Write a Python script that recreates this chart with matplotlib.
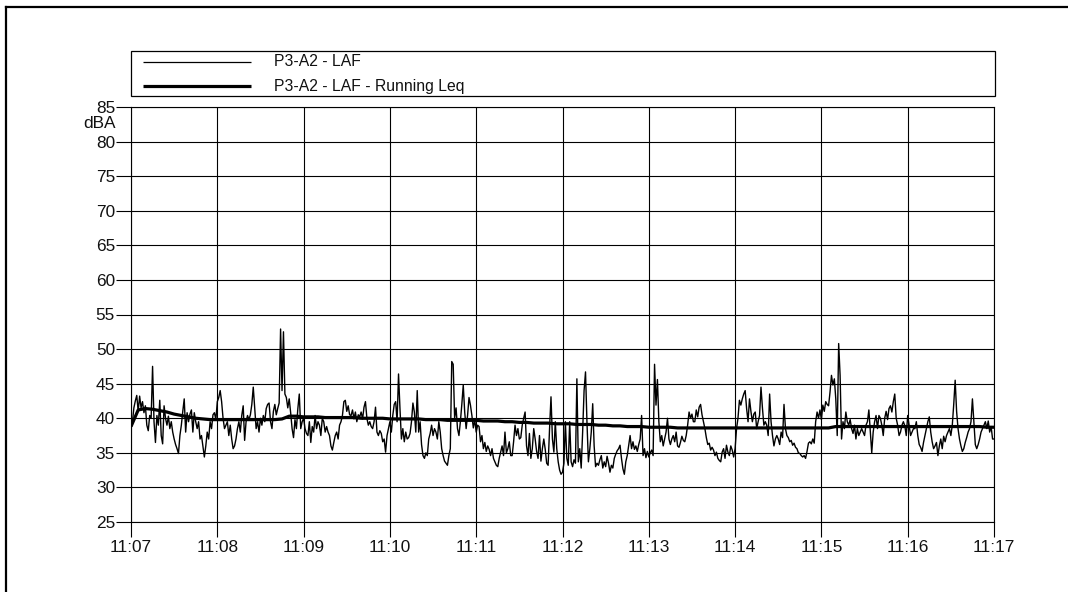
import numpy as np
import matplotlib
matplotlib.use("Agg")
import matplotlib.pyplot as plt
from matplotlib.lines import Line2D
from matplotlib.patches import Rectangle

plt.rcParams['font.family'] = ['Liberation Sans', 'DejaVu Sans']

# LAF level, one sample per second from 11:07:00 to 11:17:00 (dBA)
laf = [
    38.5, 39.5, 41.5, 42.5, 43.3, 41.0, 43.2, 41.5, 42.4, 40.8,
    41.8, 39.0, 38.2, 40.4, 40.0, 47.5, 39.5, 36.5, 40.4, 39.0,
    42.6, 37.5, 36.3, 41.8, 40.0, 39.0, 40.3, 38.5, 39.5, 38.0,
    37.0, 36.2, 35.6, 34.9, 37.5, 39.0, 41.0, 42.8, 38.0, 40.8,
    39.5, 40.6, 41.2, 38.0, 40.8, 39.5, 38.5, 39.5, 37.0, 37.5,
    36.0, 34.4, 36.0, 38.0, 37.0, 39.5, 38.5, 40.5, 40.8, 39.8,
    42.4, 43.0, 44.0, 42.4, 40.0, 38.5, 39.0, 39.5, 37.5, 39.0,
    37.0, 35.6, 36.0, 37.0, 38.5, 39.5, 38.0, 40.4, 41.8, 36.8,
    39.5, 40.4, 39.8, 40.5, 42.0, 44.5, 41.4, 38.5, 39.5, 38.0,
    40.0, 39.0, 40.4, 39.5, 41.4, 42.0, 42.2, 39.5, 38.5, 41.0,
    42.0, 40.5, 41.4, 42.2, 52.9, 44.0, 52.5, 43.5, 43.0, 41.5,
    42.8, 40.8, 38.5, 37.2, 39.8, 38.5, 41.4, 43.5, 38.5, 39.5,
    40.0, 38.5, 37.8, 37.5, 39.5, 36.5, 38.8, 38.0, 40.4, 38.5,
    39.5, 39.0, 37.5, 40.0, 39.5, 38.0, 38.8, 38.0, 37.5, 36.0,
    35.4, 36.5, 37.5, 38.0, 37.0, 39.0, 39.5, 40.4, 42.4, 42.6,
    41.0, 41.8, 40.5, 40.4, 41.2, 39.9, 40.9, 39.5, 40.5, 40.2,
    40.9, 39.9, 41.6, 42.4, 40.0, 39.0, 39.5, 38.8, 38.5, 39.5,
    41.6, 38.0, 37.5, 38.2, 37.8, 36.6, 37.0, 35.1, 37.5, 38.5,
    39.5, 38.0, 40.4, 42.0, 42.4, 39.5, 46.4, 41.4, 37.0, 38.5,
    36.6, 38.0, 37.0, 37.2, 37.8, 39.5, 42.2, 40.9, 38.0, 44.0,
    38.0, 39.5, 36.2, 34.6, 34.2, 35.0, 34.6, 37.0, 37.8, 39.0,
    37.5, 38.5, 38.0, 37.0, 39.5, 38.0, 35.6, 34.6, 33.8, 33.5,
    33.2, 34.6, 35.6, 48.2, 47.8, 40.0, 41.5, 38.5, 37.5, 39.5,
    42.0, 44.8, 40.9, 38.5, 40.4, 43.0, 41.9, 40.4, 38.6, 39.8,
    38.0, 39.0, 38.8, 36.6, 37.5, 35.6, 36.5, 35.2, 36.0, 35.5,
    34.6, 35.6, 34.2, 33.7, 33.2, 33.0, 34.2, 35.1, 36.0, 34.6,
    38.0, 35.0, 35.6, 36.6, 34.6, 34.6, 36.6, 39.0, 37.5, 38.5,
    37.0, 37.2, 39.0, 40.0, 40.9, 36.0, 34.6, 37.8, 34.2, 35.6,
    38.5, 37.0, 35.2, 34.2, 37.5, 33.8, 35.6, 37.0, 35.5, 33.5,
    33.2, 38.5, 43.1, 37.0, 35.1, 39.5, 35.6, 33.7, 32.5, 31.9,
    32.2, 33.5, 39.5, 34.2, 33.2, 39.5, 33.7, 33.0, 34.0, 33.5,
    45.7, 33.7, 35.6, 32.8, 38.0, 44.0, 46.7, 39.5, 33.7, 35.6,
    38.0, 42.1, 36.0, 33.0, 33.5, 33.2, 34.0, 34.6, 32.8, 33.7,
    33.0, 34.5, 33.5, 32.2, 33.2, 32.8, 34.2, 34.8, 35.3, 35.6,
    36.1, 34.2, 32.7, 31.9, 33.7, 34.6, 36.0, 37.5, 35.6, 36.6,
    35.5, 36.0, 35.2, 36.2, 37.0, 40.4, 34.6, 35.6, 34.3, 35.2,
    34.4, 35.0, 35.4, 34.6, 47.8, 41.9, 45.6, 39.5, 36.6, 37.5,
    36.0, 37.0, 38.0, 40.0, 37.0, 36.2, 37.0, 37.5, 36.6, 38.0,
    36.0, 35.8, 36.5, 37.4, 36.8, 36.6, 37.5, 39.0, 40.9, 40.0,
    40.6, 39.5, 39.5, 41.2, 40.2, 41.6, 42.0, 40.5, 39.5, 38.5,
    37.2, 36.2, 36.4, 35.4, 35.8, 35.4, 34.6, 35.1, 34.2, 33.9,
    33.7, 35.1, 35.6, 34.2, 36.1, 35.1, 34.6, 36.0, 35.4, 34.4,
    35.6, 38.5, 40.0, 42.6, 41.9, 42.8, 43.5, 44.0, 41.4, 39.5,
    42.8, 41.0, 39.5, 40.6, 40.9, 38.5, 39.5, 40.4, 44.5, 41.5,
    39.0, 39.5, 39.0, 37.5, 43.5, 39.5, 37.5, 36.0, 37.0, 37.5,
    37.0, 36.2, 38.0, 37.2, 42.0, 38.5, 37.5, 37.2, 36.6, 36.8,
    36.1, 36.4, 35.8, 35.6, 35.0, 34.9, 34.6, 34.4, 34.6, 34.2,
    35.2, 36.4, 36.6, 36.3, 37.0, 36.4, 39.5, 40.9, 40.0, 41.2,
    39.8, 41.9, 41.0, 42.4, 42.0, 41.8, 43.8, 46.2, 44.8, 45.7,
    42.8, 37.5, 50.8, 46.2, 37.0, 39.5, 38.5, 40.9, 39.5, 39.0,
    39.8, 38.5, 37.8, 39.0, 37.0, 38.5, 37.5, 38.0, 38.5, 38.0,
    37.5, 39.0, 39.5, 41.2, 38.0, 35.0, 38.0, 39.5, 40.4, 38.5,
    40.4, 40.0, 39.0, 37.5, 40.0, 41.0, 39.8, 41.4, 41.8, 40.9,
    42.4, 43.5, 40.0, 39.0, 37.5, 38.0, 39.0, 39.5, 38.9, 37.5,
    40.4, 39.0, 37.5, 38.0, 38.5, 38.5, 39.5, 37.5, 36.2, 35.8,
    35.2, 36.5, 37.5, 38.5, 39.5, 40.2, 38.0, 36.6, 35.6, 36.0,
    36.5, 34.6, 36.0, 37.0, 35.6, 37.4, 36.6, 37.5, 38.0, 38.5,
    37.5, 39.0, 42.0, 45.5, 41.0, 38.5, 37.0, 36.0, 35.2, 35.6,
    36.5, 37.2, 38.0, 38.5, 39.5, 42.8, 39.5, 36.2, 35.6, 36.2,
    37.0, 38.0, 38.5, 39.0, 39.5, 38.5, 39.6, 38.0, 38.8, 37.0,
    37.0,
]

# Running Leq as logged by the meter, one value every 5 s (dBA)
running_leq = [
    38.8, 41.2, 41.4, 41.3, 41.1, 40.9, 40.6, 40.4, 40.2, 40.0,
    39.9, 39.8, 39.8, 39.8, 39.8, 39.8, 39.8, 39.8, 39.8, 39.8,
    39.8, 39.9, 40.3, 40.3, 40.2, 40.2, 40.2, 40.1, 40.1, 40.1,
    40.1, 40.1, 40.0, 40.0, 40.0, 40.0, 39.9, 39.9, 39.9, 39.9,
    39.9, 39.8, 39.8, 39.8, 39.7, 39.7, 39.7, 39.7, 39.7, 39.6,
    39.6, 39.6, 39.5, 39.5, 39.4, 39.4, 39.3, 39.3, 39.3, 39.2,
    39.2, 39.2, 39.1, 39.1, 39.1, 39.0, 39.0, 38.9, 38.9, 38.8,
    38.8, 38.8, 38.7, 38.7, 38.7, 38.7, 38.6, 38.6, 38.6, 38.6,
    38.6, 38.6, 38.6, 38.6, 38.6, 38.6, 38.6, 38.6, 38.6, 38.6,
    38.6, 38.6, 38.6, 38.6, 38.6, 38.6, 38.6, 38.6, 38.8, 38.8,
    38.8, 38.8, 38.8, 38.8, 38.8, 38.8, 38.8, 38.8, 38.8, 38.8,
    38.8, 38.8, 38.8, 38.8, 38.8, 38.8, 38.8, 38.8, 38.8, 38.7,
    38.7,
]

time_ticks = ["11:07", "11:08", "11:09", "11:10", "11:11", "11:12",
              "11:13", "11:14", "11:15", "11:16", "11:17"]
level_ticks = [25, 30, 35, 40, 45, 50, 55, 60, 65, 70, 75, 80, 85]
series_names = ["P3-A2 - LAF", "P3-A2 - LAF - Running Leq"]

t_laf = np.arange(len(laf))              # seconds since 11:07:00
t_leq = np.arange(len(running_leq)) * 5  # seconds since 11:07:00

W, H = 1068, 592
fig = plt.figure(figsize=(W / 100, H / 100), dpi=100)
fig.patch.set_facecolor("white")


def fx(px):
    return px / W


def fy(py):
    return 1 - py / H


ax = fig.add_axes([fx(131), fy(522), fx(994) - fx(131), fy(107) - fy(522)])
ax.plot(t_laf, laf, color="black", lw=1.0, zorder=3)
ax.plot(t_leq, running_leq, color="black", lw=2.3, zorder=4,
        solid_capstyle="butt")

ax.set_xlim(0, 600)
ax.set_ylim(25, 85)
ax.set_xticks(np.arange(len(time_ticks)) * 60)
ax.set_xticklabels(time_ticks)
ax.set_yticks(level_ticks)
ax.set_yticklabels([str(v) for v in level_ticks])
ax.grid(True, color="black", lw=0.8, zorder=1)
ax.set_axisbelow(True)
for sp in ax.spines.values():
    sp.set_color("black")
    sp.set_linewidth(0.8)
ax.tick_params(axis="both", length=11, width=0.8, color="black",
               labelsize=12.4, labelcolor="#111111")
ax.tick_params(axis="y", pad=0.5)
ax.tick_params(axis="x", pad=2)

# unit label between the top two ticks
fig.text(fx(116), fy(124), "dBA", ha="right", va="center", fontsize=12.4,
         color="#111111")

# legend box above the plot
fig.add_artist(Rectangle((fx(131), fy(96)), fx(995) - fx(131), fy(51) - fy(96),
                         transform=fig.transFigure, facecolor="white",
                         edgecolor="black", lw=0.9))
for py, lw, name in zip([62, 86], [0.9, 2.3], series_names):
    fig.add_artist(Line2D([fx(143), fx(251)], [fy(py), fy(py)],
                          transform=fig.transFigure, color="black", lw=lw,
                          solid_capstyle="butt"))
    fig.text(fx(274), fy(py), name, ha="left", va="center", fontsize=11.3,
             color="#111111")

# outer frame edges
fig.add_artist(Line2D([fx(6), fx(6)], [fy(7), fy(H + 5)],
                      transform=fig.transFigure, color="black", lw=1.6))
fig.add_artist(Line2D([fx(6), fx(W + 5)], [fy(7), fy(7)],
                      transform=fig.transFigure, color="black", lw=1.6))

fig.savefig("out.png", dpi=100, facecolor="white")
